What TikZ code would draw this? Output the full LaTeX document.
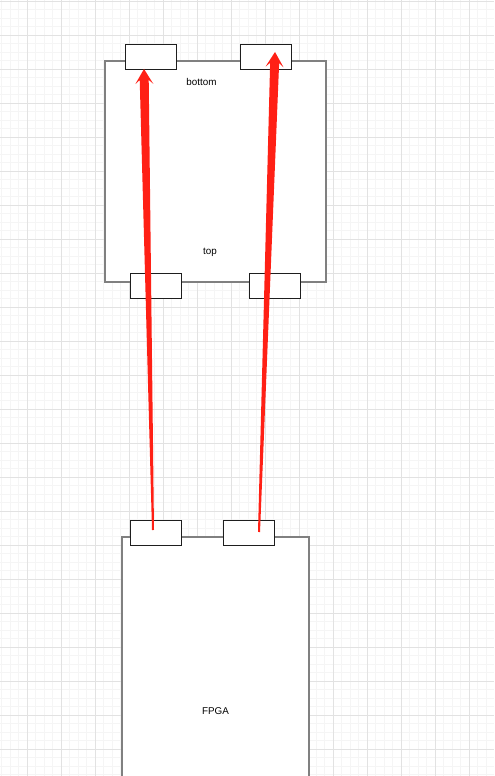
\documentclass[tikz,border=0pt]{standalone}
\usepackage{fontspec}
\setmainfont{Liberation Sans}
\usepackage{tikz}
\usetikzlibrary{positioning, calc}
\definecolor{GridMinor}{HTML}{F5F5F5}
\definecolor{GridMajor}{HTML}{E2E2E2}
\definecolor{FrameGray}{HTML}{808080}
\definecolor{PinBlack}{HTML}{1E1E1E}
\definecolor{WireRed}{HTML}{FF2015}
\def\pu{0.02cm}

\tikzset{
  board/.style={draw=FrameGray, line width=1.1pt, fill=white, inner sep=0pt},
  pin/.style={draw=PinBlack, line width=0.5pt, fill=white, inner sep=0pt,
    minimum width=51*\pu, minimum height=25*\pu},
  lbl/.style={font=\fontsize{5.6}{6.5}\selectfont, inner sep=0pt},
}

% tapered red arrow from #1 (tail) to #2 (tip)
\newcommand{\wirearrow}[2]{%
  \fill[WireRed]
    ($(#1)!0.02cm!90:(#2)$) --
    ($($(#2)!0.22cm!(#1)$)!0.09cm!90:(#2)$) --
    ($($(#2)!0.30cm!(#1)$)!0.18cm!90:(#2)$) --
    (#2) --
    ($($(#2)!0.30cm!(#1)$)!0.18cm!-90:(#2)$) --
    ($($(#2)!0.22cm!(#1)$)!0.09cm!-90:(#2)$) --
    ($(#1)!0.02cm!-90:(#2)$) -- cycle;}

\begin{document}
\begin{tikzpicture}[x=\pu, y=-\pu]
  \useasboundingbox (0,0) rectangle (494,776);
  \clip (0,0) rectangle (494,776);
  \fill[white] (0,0) rectangle (494,776);

  % grid
  \foreach \x in {1.5,10,...,494} \draw[GridMinor, line width=0.3pt] (\x,0) -- (\x,776);
  \foreach \y in {1,9.5,...,776} \draw[GridMinor, line width=0.3pt] (0,\y) -- (494,\y);
  \foreach \x in {27,61,...,494} \draw[GridMajor, line width=0.5pt] (\x,0) -- (\x,776);
  \foreach \y in {1,35,...,776} \draw[GridMajor, line width=0.5pt] (0,\y) -- (494,\y);

  % boards
  \node[board, minimum width=221*\pu, minimum height=221*\pu] (chip) at (215.5,171.5) {};
  \node[board, minimum width=187*\pu, minimum height=343*\pu] (fpga) at (215.5,708.5) {};

  \node[lbl] (bottomlbl) at (201.5,82) {bottom};
  \node[lbl] (toplbl) at (210,252) {top};
  \node[lbl] (fpgalbl) at (215.5,711) {FPGA};

  % pins
  \node[pin] (cb1) at (151,56.5) {};
  \node[pin] (cb2) at (266.3,56.5) {};
  \node[pin] (ct1) at (155.8,286.2) {};
  \node[pin] (ct2) at (274.8,286.2) {};
  \node[pin] (fp1) at (155.8,532.5) {};
  \node[pin] (fp2) at (249.3,532.5) {};

  % wires
  \coordinate (src1) at (153,530);
  \coordinate (dst1) at (144,69);
  \coordinate (src2) at (259,532);
  \coordinate (dst2) at (275,52);
  \wirearrow{src1}{dst1}
  \wirearrow{src2}{dst2}
\end{tikzpicture}
\end{document}
